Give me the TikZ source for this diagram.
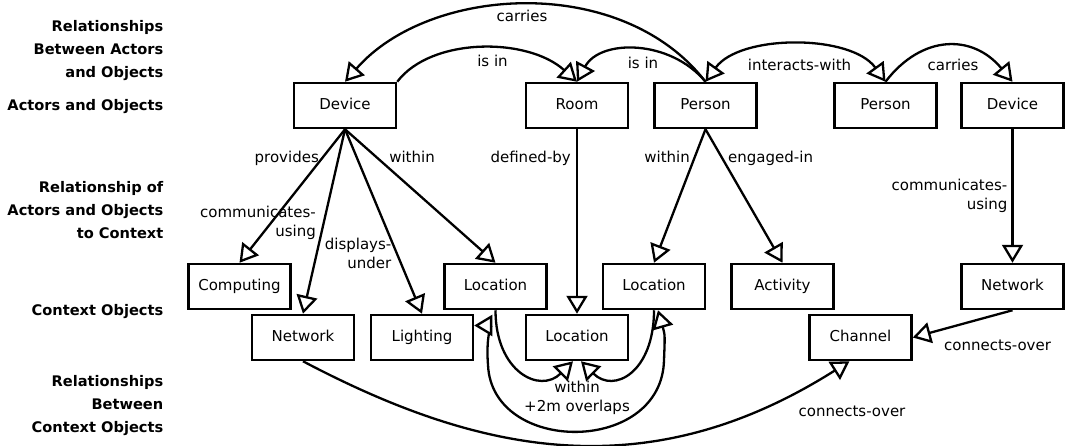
\documentclass[tikz,border=0pt]{standalone}
\usepackage{fontspec}
\setmainfont{DejaVu Sans}
\usetikzlibrary{arrows.meta}
\begin{document}
\begin{tikzpicture}[x=1pt,y=-1pt,
  box/.style={draw,line width=2.5pt,minimum width=102pt,minimum height=45pt,inner sep=0pt,
    text height=11pt,text depth=3.5pt,font=\fontsize{15}{18}\selectfont},
  lbl/.style={inner sep=0pt,text height=11pt,text depth=3.5pt,font=\fontsize{15}{18}\selectfont},
  mlbl/.style={inner sep=0pt,font=\fontsize{15}{19}\selectfont},
  head/.style={font=\bfseries\fontsize{14.6}{23}\selectfont,align=right,anchor=east,inner sep=0pt},
  conn/.style={line width=2.3pt,-{Triangle[length=18pt,width=21pt,fill=white]}},
  both/.style={line width=2.3pt,{Triangle[length=18pt,width=21pt,fill=white]}-{Triangle[length=18pt,width=21pt,fill=white]}},
]
\useasboundingbox (0,0) rectangle (1065,445);

% row headings
\node[head] (h1) at (163.5,51) {Relationships\\Between Actors\\and Objects};
\node[head] (h2) at (163.5,107) {Actors and Objects};
\node[head] (h3) at (163.5,210) {Relationship of\\Actors and Objects\\to Context};
\node[head] (h4) at (163.5,312) {Context Objects};
\node[head] (h5) at (163.5,406) {Relationships\\Between\\Context Objects};

% boxes
\node[box] (devA) at (345,105.5) {Device};
\node[box] (room) at (577,105.5) {Room};
\node[box] (perA) at (705.5,105.5) {Person};
\node[box] (perB) at (885.5,105.5) {Person};
\node[box] (devB) at (1012.5,105.5) {Device};
\node[box] (comp) at (239.5,286.5) {Computing};
\node[box] (net1) at (303,337.5) {Network};
\node[box] (light) at (422,337.5) {Lighting};
\node[box] (loc1) at (495.5,286.5) {Location};
\node[box] (locM) at (577,337.5) {Location};
\node[box] (loc2) at (654,286.5) {Location};
\node[box] (act) at (782.5,286.5) {Activity};
\node[box] (net2) at (1012.5,286.5) {Network};
\node[box] (chan) at (860.5,337.5) {Channel};

% top relations
\draw[conn] (perA.north) .. controls (621.5,-27) and (429,-14.6) .. (devA.north);
\draw[conn] (devA.north east) .. controls (431,37) and (527.5,37) .. (room.north);
\draw[conn] (perA.north) .. controls (670,39) and (600,39) .. (room.north);
\draw[both] (perA.north) .. controls (740,34) and (851,34) .. (perB.north);
\draw[conn] (perB.north) .. controls (922,34) and (973,34) .. (devB.north);

% to context
\draw[conn] (devA.south) -- (comp.north);
\draw[conn] (devA.south) -- (net1.north);
\draw[conn] (devA.south) -- (light.north);
\draw[conn] (devA.south) -- (loc1.north);
\draw[conn] (room.south) -- (locM.north);
\draw[conn] (perA.south) -- (loc2.north);
\draw[conn] (perA.south) -- (act.north);
\draw[conn] (devB.south) -- (net2.north);

% between context objects
\draw[conn] (net2.south) -- (chan.east);
\draw[conn] (net1.south) .. controls (477,453) and (646,490) .. (chan.245);
\draw[conn] (loc1.south) .. controls (495.5,372) and (540,394) .. ([xshift=-4pt]locM.south);
\draw[conn] (loc2.south) .. controls (654,372) and (614,394) .. ([xshift=4pt]locM.south);
\draw[both] ([yshift=12pt]light.east) .. controls +(16,0) and (486,340) .. (488,365)
  .. controls (492,455) and (662,455) .. (664,360)
  .. controls (665,335) .. ([xshift=4pt]loc2.south);

% labels
\node[lbl] (lcarA) at (522,18) {carries};
\node[lbl] (lisin1) at (492.5,63) {is in};
\node[lbl] (lisin2) at (643,65) {is in};
\node[lbl] (linter) at (799.5,67) {interacts-with};
\node[lbl] (lcarB) at (953,67) {carries};
\node[lbl,anchor=east] (lprov) at (319,159) {provides};
\node[lbl] (lwithA) at (412,159) {within};
\node[mlbl,align=right,anchor=east] (lcomm1) at (316,222.5) {communicates-\\using};
\node[mlbl,align=right,anchor=east] (ldisp) at (391.5,253) {displays-\\under};
\node[lbl,anchor=east] (ldef) at (571,158.5) {defined-by};
\node[lbl,anchor=east] (lwithP) at (690,158.5) {within};
\node[lbl,anchor=west] (leng) at (728,158.5) {engaged-in};
\node[mlbl,align=right,anchor=east] (lcomm2) at (1007.5,196) {communicates-\\using};
\node[lbl,anchor=west] (lconn1) at (944,347) {connects-over};
\node[lbl] (lconn2) at (852,413) {connects-over};
\node[mlbl,align=center] (lwithin) at (577,398) {within\\+2m overlaps};
\end{tikzpicture}
\end{document}
